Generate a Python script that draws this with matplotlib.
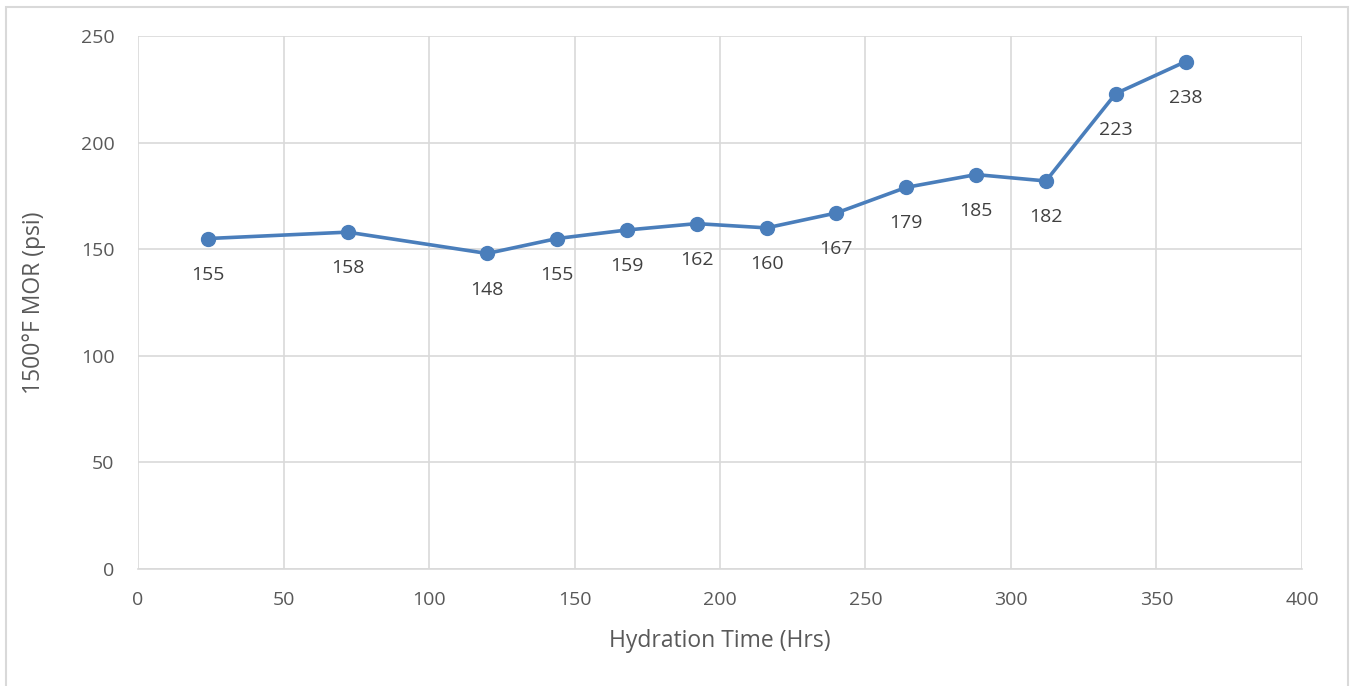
import matplotlib.pyplot as plt
from matplotlib.patches import Rectangle

# data
hours = [24, 72, 120, 144, 168, 192, 216, 240, 264, 288, 312, 336, 360]
mor = [155, 158, 148, 155, 159, 162, 160, 167, 179, 185, 182, 223, 238]
x_ticks = [0, 50, 100, 150, 200, 250, 300, 350, 400]
y_ticks = [0, 50, 100, 150, 200, 250]

plt.rcParams['font.family'] = ['Open Sans', 'DejaVu Sans']

fig = plt.figure(figsize=(13.53, 6.86), dpi=100)
ax = fig.add_axes([0.102, 0.1706, 0.8603, 0.7769])

# outer chart frame
fig.patches.append(Rectangle((0.0045, -0.01), 0.9915, 0.9995, transform=fig.transFigure,
                             fill=False, edgecolor='#d9d9d9', linewidth=1.5))

ax.plot(hours, mor, color='#4a7ebb', linewidth=2.6, marker='o', markersize=10, zorder=3)
for x, y in zip(hours, mor):
    ax.annotate(str(y), (x, y), xytext=(0, -26), textcoords='offset points',
                ha='center', va='center', fontsize=14, color='#404040')

ax.set_xlim(0, 400)
ax.set_ylim(0, 250)
ax.set_xticks(x_ticks)
ax.set_yticks(y_ticks)
ax.grid(True, color='#d9d9d9', linewidth=1.2)
ax.set_axisbelow(True)
for side in ['top', 'right', 'left']:
    ax.spines[side].set_visible(False)
ax.spines['bottom'].set_color('#d9d9d9')
ax.spines['bottom'].set_linewidth(1.2)
ax.tick_params(axis='x', length=0, labelsize=14, labelcolor='#595959', pad=16)
ax.tick_params(axis='y', length=0, labelsize=14, labelcolor='#595959', pad=17)

ax.set_xlabel('Hydration Time (Hrs)', fontsize=16.5, color='#595959', labelpad=14)
ax.set_ylabel('1500°F MOR (psi)', fontsize=16.5, color='#595959', labelpad=25)

plt.savefig('out.png', dpi=100)
